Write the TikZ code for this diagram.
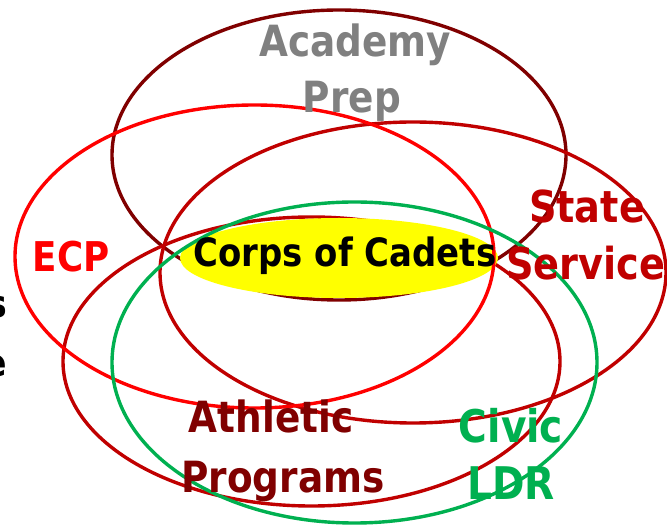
\documentclass[tikz,border=0pt]{standalone}
\usepackage{fontspec}
\newfontfamily\lblfont{DejaVu Sans}[FakeStretch=0.87]
\definecolor{maroonA}{HTML}{800000}
\definecolor{darkredB}{HTML}{C00000}
\definecolor{redC}{HTML}{FF0000}
\definecolor{greenD}{HTML}{00B050}
\definecolor{greyE}{HTML}{808080}
\definecolor{yellowF}{HTML}{FFFF00}
\tikzset{
  ring/.style={line width=3.4pt},
  lbl/.style={inner sep=0pt, anchor=base, font=\lblfont\bfseries\fontsize{43}{50}\selectfont},
}
\begin{document}
\begin{tikzpicture}[x=1pt,y=-1pt]
\useasboundingbox (0,0) rectangle (667,526);
% maroon / dark red ellipses under the yellow core
\draw[ring, maroonA] (339,155) ellipse [x radius=227, y radius=145];
\draw[ring, darkredB] (311.5,361.5) ellipse [x radius=248.5, y radius=144.5];
\draw[ring, darkredB] (413,272.5) ellipse [x radius=253, y radius=150.5];
% yellow core
\fill[yellowF] (339,258) ellipse [x radius=159, y radius=40];
% red and green on top
\draw[ring, redC] (254.5,256.5) ellipse [x radius=239.5, y radius=151.5];
\draw[ring, greenD] (354.5,362.5) ellipse [x radius=242.5, y radius=160.5];
% labels
\node[lbl, text=greyE] (acad1) at (355,57) {Academy};
\node[lbl, text=greyE] (acad2) at (352,113) {Prep};
\node[lbl, text=redC, font=\lblfont\bfseries\fontsize{41}{48}\selectfont] (ecp) at (71,272) {ECP};
\node[lbl, text=darkredB, font=\lblfont\bfseries\fontsize{44}{50}\selectfont] (state1) at (587,223) {State};
\node[lbl, text=darkredB, font=\lblfont\bfseries\fontsize{44}{50}\selectfont] (state2) at (586,280) {Service};
\node[lbl, text=black, font=\lblfont\bfseries\fontsize{39}{46}\selectfont] (corps) at (345,267) {Corps of Cadets};
\node[lbl, text=maroonA] (ath1) at (271,433) {Athletic};
\node[lbl, text=maroonA] (ath2) at (283,493) {Programs};
\node[lbl, text=greenD, font=\lblfont\bfseries\fontsize{45}{52}\selectfont] (civic1) at (511,443) {Civic};
\node[lbl, text=greenD, font=\lblfont\bfseries\fontsize{45}{52}\selectfont] (civic2) at (511,500) {LDR};
% partial letters at the left edge (cut off in the reference too)
\node[lbl, anchor=base east, text=black, font=\lblfont\bfseries\fontsize{38}{46}\selectfont] (frag1) at (7,318) {s};
\node[lbl, anchor=base east, text=black, font=\lblfont\bfseries\fontsize{38}{46}\selectfont] (frag2) at (7,377) {e};
\end{tikzpicture}
\end{document}
